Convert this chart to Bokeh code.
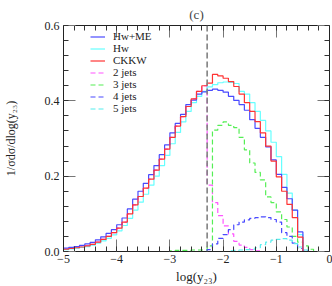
import numpy as np
from bokeh.plotting import figure
from bokeh.models import (LinearAxis, FixedTicker, PrintfTickFormatter, Legend,
                          LegendItem, Span)
from bokeh.embed import file_html
from bokeh.resources import INLINE

# ---------------- data ----------------
bin_lo, bin_hi, n_bins = -5.0, 0.0, 50

hw_me = [0.009, 0.011, 0.013, 0.016, 0.020, 0.024, 0.031, 0.039, 0.048, 0.058,
         0.071, 0.089, 0.113, 0.139, 0.160, 0.181, 0.204, 0.228, 0.257, 0.283,
         0.315, 0.340, 0.364, 0.390, 0.402, 0.418, 0.424, 0.428, 0.431, 0.428,
         0.423, 0.412, 0.401, 0.390, 0.375, 0.350, 0.327, 0.303, 0.278, 0.243,
         0.205, 0.170, 0.140, 0.110, 0.052, 0.0, 0.0, 0.0, 0.0, 0.0]

hw = [0.005, 0.007, 0.009, 0.011, 0.013, 0.017, 0.022, 0.028, 0.035, 0.044,
      0.055, 0.069, 0.088, 0.110, 0.131, 0.152, 0.176, 0.200, 0.228, 0.255,
      0.286, 0.316, 0.344, 0.372, 0.395, 0.412, 0.425, 0.437, 0.443, 0.448,
      0.450, 0.449, 0.446, 0.425, 0.418, 0.395, 0.372, 0.348, 0.320, 0.290,
      0.252, 0.205, 0.155, 0.110, 0.045, 0.0, 0.0, 0.0, 0.0, 0.0]

ckkw = [0.006, 0.008, 0.010, 0.012, 0.015, 0.019, 0.025, 0.032, 0.040, 0.050,
        0.062, 0.078, 0.100, 0.124, 0.146, 0.168, 0.192, 0.216, 0.245, 0.272,
        0.303, 0.333, 0.358, 0.385, 0.405, 0.425, 0.440, 0.447, 0.470, 0.466,
        0.460, 0.451, 0.438, 0.418, 0.395, 0.372, 0.345, 0.315, 0.280, 0.240,
        0.198, 0.160, 0.125, 0.090, 0.038, 0.0, 0.0, 0.0, 0.0, 0.0]

jets2 = [0.006, 0.008, 0.010, 0.012, 0.015, 0.019, 0.025, 0.032, 0.040, 0.050,
         0.062, 0.078, 0.100, 0.124, 0.146, 0.168, 0.192, 0.216, 0.245, 0.272,
         0.303, 0.333, 0.358, 0.385, 0.405, 0.425, 0.440, 0.176, 0.130, 0.095,
         0.068, 0.047, 0.027, 0.017, 0.011, 0.005, 0.002, 0.0, 0.0, 0.0,
         0.0, 0.0, 0.0, 0.0, 0.0, 0.0, 0.0, 0.0, 0.0, 0.0]

jets3 = [0.0, 0.0, 0.0, 0.0, 0.0, 0.0, 0.0, 0.0, 0.0, 0.0,
         0.0, 0.0, 0.0, 0.0, 0.0, 0.0, 0.0, 0.0, 0.0, 0.0,
         0.002, 0.003, 0.003, 0.003, 0.004, 0.004, 0.004, 0.015, 0.322, 0.335,
         0.344, 0.335, 0.329, 0.303, 0.270, 0.235, 0.210, 0.190, 0.145, 0.130,
         0.105, 0.085, 0.065, 0.040, 0.025, 0.015, 0.006, 0.0, 0.0, 0.0]

jets4 = [0.0, 0.0, 0.0, 0.0, 0.0, 0.0, 0.0, 0.0, 0.0, 0.0,
         0.0, 0.0, 0.0, 0.0, 0.0, 0.0, 0.0, 0.0, 0.0, 0.0,
         0.0, 0.0, 0.0, 0.0, 0.0, 0.0, 0.0, 0.005, 0.020, 0.035,
         0.045, 0.058, 0.071, 0.078, 0.084, 0.088, 0.090, 0.092, 0.090, 0.085,
         0.078, 0.050, 0.040, 0.022, 0.008, 0.003, 0.0, 0.0, 0.0, 0.0]

jets5 = [0.0, 0.0, 0.0, 0.0, 0.0, 0.0, 0.0, 0.0, 0.0, 0.0,
         0.0, 0.0, 0.0, 0.0, 0.0, 0.0, 0.0, 0.0, 0.0, 0.0,
         0.0, 0.0, 0.0, 0.0, 0.0, 0.0, 0.0, 0.0, 0.0, 0.0,
         0.0, 0.002, 0.003, 0.004, 0.005, 0.006, 0.010, 0.018, 0.025, 0.030,
         0.032, 0.034, 0.030, 0.021, 0.012, 0.004, 0.0, 0.0, 0.0, 0.0]

y_cut = -2.3
x_ticks = [-5, -4, -3, -2, -1, 0]
x_tick_labels = ["\u22125", "\u22124", "\u22123", "\u22122", "\u22121", "0"]
y_ticks = [0.0, 0.2, 0.4, 0.6]
series_names = ["Hw+ME", "Hw", "CKKW", "2 jets", "3 jets", "4 jets", "5 jets"]

# ---------------- figure ----------------
edges = np.round(np.linspace(bin_lo, bin_hi, n_bins + 1), 3)
FONT = "Liberation Serif"

p = figure(width=332, height=286, x_range=(bin_lo, bin_hi), y_range=(0, 0.6),
           output_backend="svg", toolbar_location=None,
           min_border_left=63, min_border_right=3, min_border_top=24,
           min_border_bottom=33)
p.grid.visible = False
p.outline_line_color = "#222222"
p.background_fill_color = "white"

p.title.text = "(c)"
p.title.align = "center"
p.title.text_font = FONT
p.title.text_font_style = "normal"
p.title.text_font_size = "13px"
p.title.standoff = 8
p.title.offset = 0

x_minor = list(np.round(np.arange(bin_lo, bin_hi + 0.001, 0.2), 3))
y_minor = list(np.round(np.arange(0, 0.6001, 0.04), 3))
xt = FixedTicker(ticks=x_ticks, minor_ticks=x_minor)
yt = FixedTicker(ticks=y_ticks, minor_ticks=y_minor)

def style_axis(ax):
    ax.major_tick_in = 12
    ax.major_tick_out = 0
    ax.minor_tick_in = 5
    ax.minor_tick_out = 0
    ax.axis_line_color = "#222222"
    ax.major_tick_line_color = "#777777"
    ax.minor_tick_line_color = "#333333"
    ax.major_label_text_font = FONT
    ax.major_label_text_font_size = "12px"
    ax.major_label_text_color = "#222222"
    ax.axis_label_text_font = FONT
    ax.axis_label_text_font_style = "normal"
    ax.axis_label_text_font_size = "13px"
    ax.axis_label_text_color = "#222222"

xa = p.xaxis[0]
xa.ticker = xt
xa.major_label_overrides = dict(zip(x_ticks, x_tick_labels))
xa.axis_label = "log(y\u2082\u2083)"
style_axis(xa)
xa.major_label_standoff = 3
xa.axis_label_standoff = 3

ya = p.yaxis[0]
ya.ticker = yt
ya.formatter = PrintfTickFormatter(format="%.1f")
ya.axis_label = "1/\u03c3d\u03c3/dlog(y\u2082\u2083)"
style_axis(ya)
ya.axis_label_text_font_size = "12px"
ya.major_label_standoff = 4
ya.axis_label_standoff = 24

for loc, tick in (("above", xt), ("right", yt)):
    ax = LinearAxis(ticker=tick)
    style_axis(ax)
    ax.major_label_text_font_size = "1px"
    ax.major_label_text_color = None
    ax.major_label_standoff = 0
    p.add_layout(ax, loc)

# ---------------- histograms ----------------
def step_vals(v):
    return list(v) + [v[-1]]

dash = "5 3"
r2 = p.step(edges, step_vals(jets2), mode="after", line_color="#ff55ff", line_width=1.2, line_dash=dash)
r3 = p.step(edges, step_vals(jets3), mode="after", line_color="#55ee55", line_width=1.2, line_dash=dash)
r4 = p.step(edges, step_vals(jets4), mode="after", line_color="#4a4aff", line_width=1.2, line_dash=dash)
r5 = p.step(edges, step_vals(jets5), mode="after", line_color="#55eeee", line_width=1.2, line_dash=dash)
rh = p.step(edges, step_vals(hw), mode="after", line_color="#66ffff", line_width=1.2)
rm = p.step(edges, step_vals(hw_me), mode="after", line_color="#4a4aff", line_width=1.2)
rc = p.step(edges, step_vals(ckkw), mode="after", line_color="#ff3333", line_width=1.2)

p.add_layout(Span(location=y_cut, dimension="height", line_color="#808080",
                  line_width=1.6, line_dash="6 3"))

legend = Legend(items=[LegendItem(label=n, renderers=[r]) for n, r in
                       zip(series_names, [rm, rh, rc, r2, r3, r4, r5])],
                location=(27, 137), orientation="vertical")
legend.label_text_font = FONT
legend.label_text_font_size = "11px"
legend.label_text_color = "#222222"
legend.label_height = 11
legend.glyph_height = 11
legend.glyph_width = 15
legend.label_standoff = 8
legend.spacing = 0
legend.padding = 0
legend.margin = 0
legend.border_line_color = None
legend.background_fill_alpha = 0
p.add_layout(legend)

open("out.html", "w").write(file_html(p, INLINE))
